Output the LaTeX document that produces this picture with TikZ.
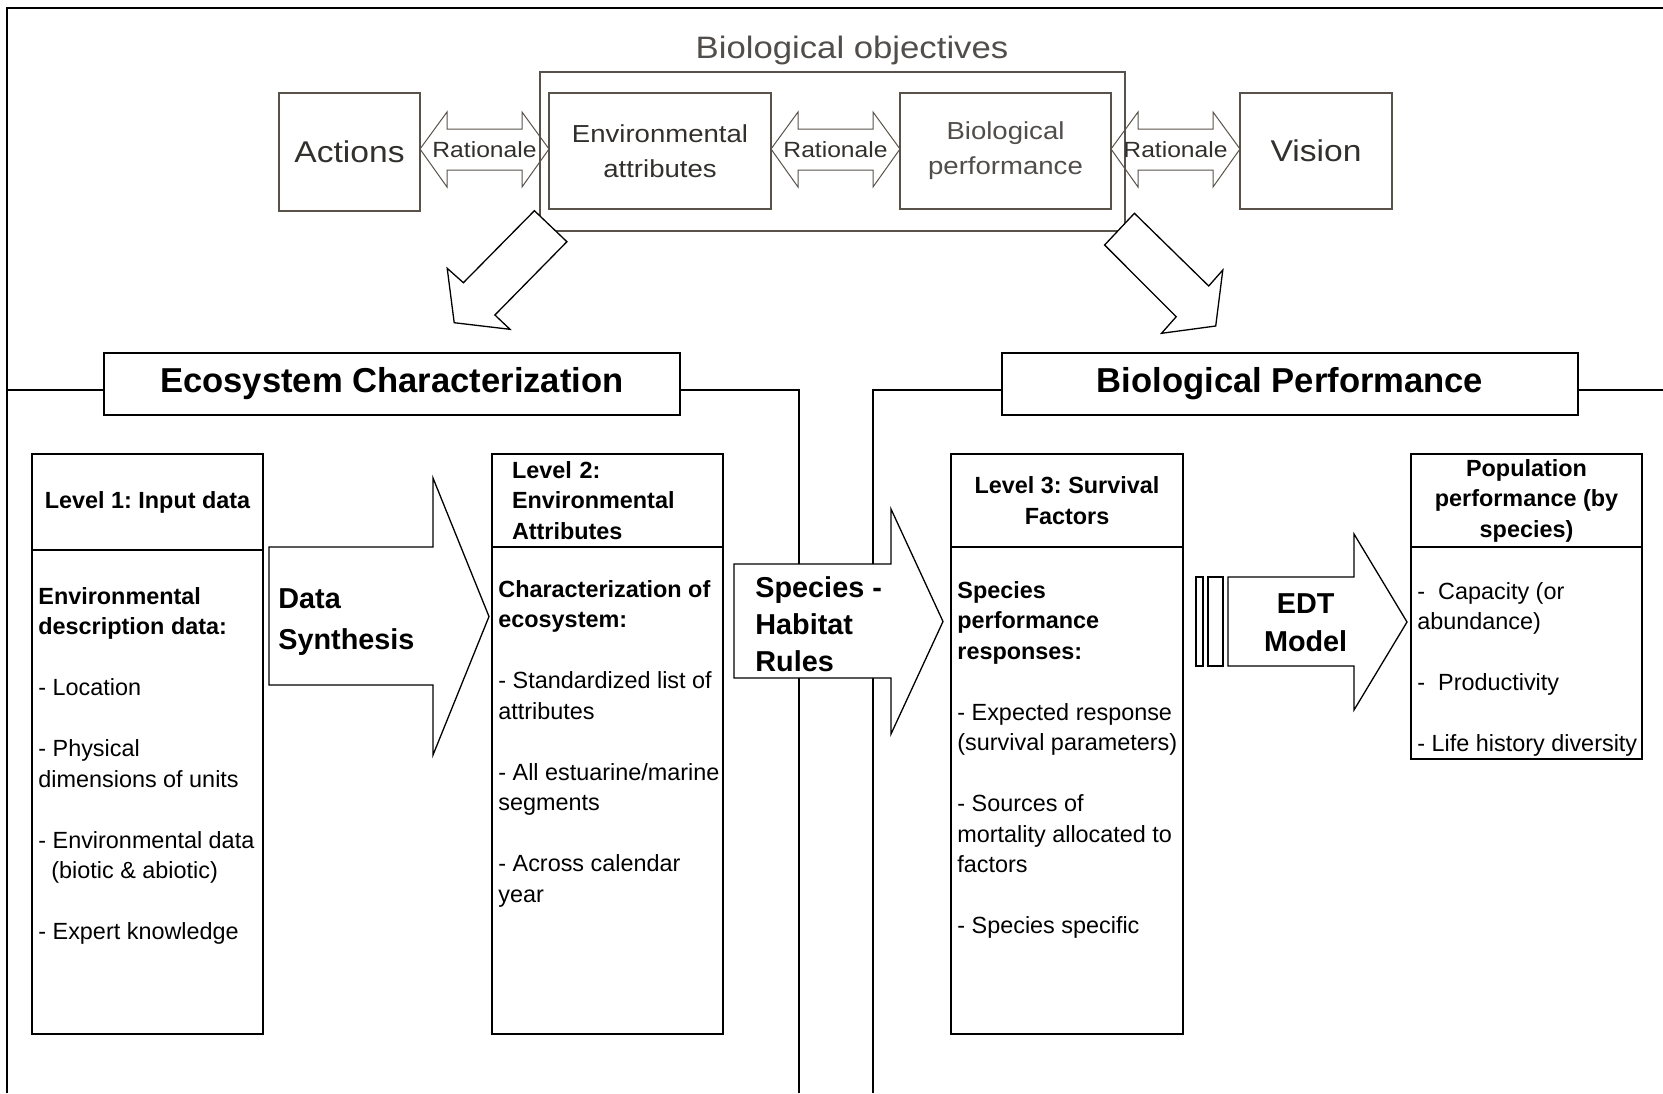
\documentclass[tikz,border=0pt]{standalone}
\usepackage{fontspec}
\setmainfont{Liberation Sans}
\newfontfamily\widefont[FakeStretch=1.12]{Liberation Sans}
\usetikzlibrary{calc}
\definecolor{boxgray}{RGB}{88,82,74}
\definecolor{inkgray}{RGB}{50,48,45}
\definecolor{softgray}{RGB}{80,77,74}
\frenchspacing

\begin{document}
\begin{tikzpicture}[x=0.5pt, y=-0.5pt,
  frameline/.style={line width=0.65pt},
  topbox/.style={draw=boxgray, line width=0.75pt, inner sep=0pt, align=center, text=inkgray},
  ratarrow/.style={draw=boxgray, line width=0.5pt},
  rattext/.style={inner sep=0pt, font=\widefont\fontsize{11}{13}\selectfont, text=inkgray},
  bigarrow/.style={draw, fill=white, line width=0.65pt, line join=miter},
  titlebox/.style={draw, fill=white, line width=0.65pt, inner sep=0pt, outer sep=0pt,
    minimum width=288pt, minimum height=31pt, font=\bfseries\fontsize{17.3}{20}\selectfont},
  headbox/.style={draw, line width=0.65pt, inner sep=0pt, outer sep=0pt, align=center,
    font=\bfseries\fontsize{11.7}{15.25}\selectfont},
  bodybox/.style={draw, line width=0.65pt, inner sep=0pt, outer sep=0pt, anchor=north},
  bodytext/.style={inner sep=0pt, anchor=north west, align=left, font=\fontsize{11.7}{15.25}\selectfont},
  arrowtext/.style={inner sep=0pt, font=\bfseries\fontsize{14.4}{19}\selectfont}
]
  \useasboundingbox (0,0) rectangle (1663,1093);

  % outer frame
  \draw[frameline] (7,1093) -- (7,8) -- (1663,8);

  % biological objectives (top part)
  \node[topbox, minimum width=292.5pt, minimum height=79.5pt] (objbox) at (832.5,151.5) {};
  \node[font=\widefont\fontsize{15.5}{18}\selectfont, text=softgray] (objlabel) at (852,50) {Biological objectives};
  \node[topbox, font=\widefont\fontsize{15}{18}\selectfont, minimum width=70.5pt, minimum height=59pt]
    (actions) at (349.5,152) {Actions};
  \node[topbox, font=\widefont\fontsize{12.3}{17.5}\selectfont, minimum width=111pt, minimum height=58pt]
    (envattr) at (660,151) {Environmental\\attributes};
  \node[topbox, font=\widefont\fontsize{12.3}{17.5}\selectfont, text=softgray, minimum width=105.5pt, minimum height=58pt]
    (bioperf) at (1005.5,151) {Biological\\performance};
  \node[topbox, font=\widefont\fontsize{15}{18}\selectfont, minimum width=76pt, minimum height=58pt]
    (vision) at (1316,151) {Vision};

  % rationale double arrows
  \foreach \xa/\xb [count=\i] in {420/549, 771/900, 1111/1240} {
    \draw[ratarrow] (\xa,149) -- (\xa+27,112) -- (\xa+27,129) -- (\xb-27,129) -- (\xb-27,112)
      -- (\xb,149) -- (\xb-27,187) -- (\xb-27,170) -- (\xa+27,170) -- (\xa+27,187) -- cycle;
    \node[rattext] (rat\i) at ({(\xa+\xb)/2},150) {Rationale};
  }

  % hollow arrows down to the two parts
  \draw[bigarrow] (534.4,210.7) -- (463.4,282.7) -- (447.2,268.3) -- (454.2,322.7)
    -- (510,329.3) -- (494.9,315) -- (566.9,241.7) -- cycle;
  \draw[bigarrow] (1134.4,213.3) -- (1208.7,286) -- (1222.8,270) -- (1215.7,326)
    -- (1161.5,333.3) -- (1176.2,316.7) -- (1104.6,245) -- cycle;

  % section titles and their frames
  \node[titlebox] (ecotitle) at (392,384) {Ecosystem Characterization};
  \node[titlebox] (biotitle) at (1290,384) {Biological Performance};
  \draw[frameline] (7,390) -- ([yshift=-3pt]ecotitle.west);
  \draw[frameline] ([yshift=-3pt]ecotitle.east) -| (799,1093);
  \draw[frameline] ([yshift=-3pt]biotitle.west) -| (873,1093);
  \draw[frameline] ([yshift=-3pt]biotitle.east) -- (1663,390);

  % level 1
  \node[headbox, minimum width=115.5pt, minimum height=48pt] (lev1head) at (147.5,502) {Level 1: Input data};
  \node[bodybox, minimum width=115.5pt, minimum height=242pt] (lev1body) at (lev1head.south) {};
  \node[bodytext] (lev1text) at (38,587) {\textbf{Environmental}\\\textbf{description data:}\\[15.25pt]
    - Location\\[15.25pt]
    - Physical\\dimensions of units\\[15.25pt]
    - Environmental data\\\hspace*{6.5pt}(biotic \& abiotic)\\[15.25pt]
    - Expert knowledge};

  % level 2
  \node[headbox, text width=95.5pt, align=left, minimum width=115.5pt, minimum height=46.5pt]
    (lev2head) at (607.5,500.5) {Level 2:\\Environmental\\Attributes};
  \node[bodybox, minimum width=115.5pt, minimum height=243.5pt] (lev2body) at (lev2head.south) {};
  \node[bodytext] (lev2text) at (498,580) {\textbf{Characterization of}\\\textbf{ecosystem:}\\[15.25pt]
    - Standardized list of\\attributes\\[15.25pt]
    - All estuarine/marine\\segments\\[15.25pt]
    - Across calendar\\year};

  % level 3
  \node[headbox, minimum width=116pt, minimum height=46.5pt] (lev3head) at (1067,500.5) {Level 3: Survival\\Factors};
  \node[bodybox, minimum width=116pt, minimum height=243.5pt] (lev3body) at (lev3head.south) {};
  \node[bodytext] (lev3text) at (957,581) {\textbf{Species}\\\textbf{performance}\\\textbf{responses:}\\[15.25pt]
    - Expected response\\(survival parameters)\\[15.25pt]
    - Sources of\\mortality allocated to\\factors\\[15.25pt]
    - Species specific};

  % population performance
  \node[headbox, minimum width=115.5pt, minimum height=46.5pt] (pophead) at (1526.5,500.5) {Population\\performance (by\\species)};
  \node[bodybox, minimum width=115.5pt, minimum height=106pt] (popbody) at (pophead.south) {};
  \node[bodytext] (poptext) at (1417,582) {-\ \ Capacity (or\\abundance)\\[15.25pt]
    -\ \ Productivity\\[15.25pt]
    - Life history diversity};

  % block arrows between the levels
  \draw[bigarrow] (269,547) -- (433,547) -- (433,478) -- (489,616.5) -- (433,755) -- (433,685) -- (269,685) -- cycle;
  \node[arrowtext, font=\bfseries\fontsize{14.4}{20.25}\selectfont, anchor=west, align=left]
    (synth) at (278,622) {Data\\Synthesis};

  \draw[bigarrow] (734,564) -- (891,564) -- (891,509) -- (943,621.5) -- (891,734) -- (891,678) -- (734,678) -- cycle;
  \node[arrowtext, font=\bfseries\fontsize{14.4}{18.55}\selectfont, anchor=west, align=left]
    (rules) at (755,624.5) {Species -\\Habitat\\Rules};

  \draw[bigarrow] (1196,577) rectangle (1203,666);
  \draw[bigarrow] (1208,577) rectangle (1223,666);
  \draw[bigarrow] (1228,577) -- (1354,577) -- (1354,534) -- (1407,622) -- (1354,710) -- (1354,666) -- (1228,666) -- cycle;
  \node[arrowtext, font=\bfseries\fontsize{14.4}{19.1}\selectfont, align=center]
    (edt) at (1305.6,622.6) {EDT\\Model};

\end{tikzpicture}
\end{document}
